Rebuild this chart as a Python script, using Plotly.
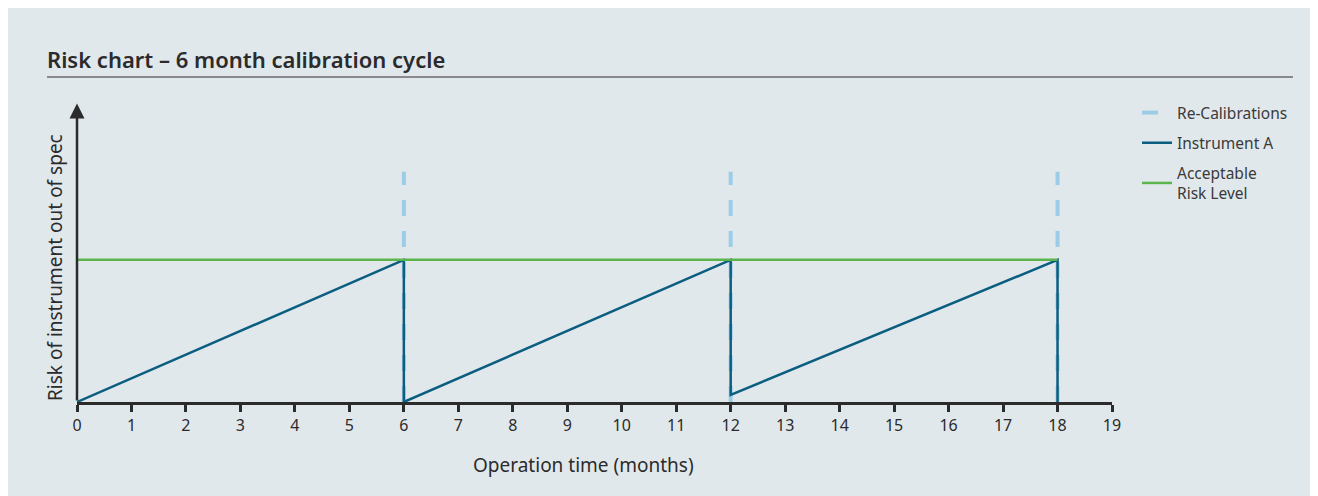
import plotly.graph_objects as go

# Data
months_ticks = list(range(0, 20))
instrument_x = [0, 6, 6, 12, 12, 18, 18]
instrument_y = [0, 1, 0, 1, 0.05, 1, 0]
accept_x = [0, 18]
accept_y = [1, 1]
recal_months = [6, 12, 18]
recal_top = 1.62
arrow_top = 2.10
y_top = 2.16

BG = "#e1e8ec"
INK = "#2b2b2b"
BLUE = "#0b5e80"
GREEN = "#5cb54c"
LIGHT = "#9dcde6"
FONT = "Noto Sans, Open Sans, sans-serif"

# page is drawn 8px in from the window edge, so pixel positions are shifted by 8
OFF = 8
L, R, T, B = 77 - OFF, 1112 - OFF, 95 - OFF, 402 - OFF
W, H = 1310, 488
PW, PH = R - L, B - T


def px(xp):
    return (xp - OFF - L) / PW


def py(yp):
    return (B - (yp - OFF)) / PH


fig = go.Figure()

# Re-calibration dashed verticals (one trace, separated by None)
rx, ry = [], []
for m in recal_months:
    rx += [m, m, None]
    ry += [0, recal_top, None]
fig.add_trace(go.Scatter(
    x=rx, y=ry, mode="lines", name="Re-Calibrations", legendgroup="a",
    line=dict(color=LIGHT, width=4, dash="16px,15px"),
    cliponaxis=False,
))

fig.add_trace(go.Scatter(
    x=instrument_x, y=instrument_y, mode="lines", name="Instrument A", legendgroup="b",
    line=dict(color=BLUE, width=2.5), cliponaxis=False,
))

fig.add_trace(go.Scatter(
    x=accept_x, y=accept_y, mode="lines", name="Acceptable<br>Risk Level", legendgroup="c",
    line=dict(color=GREEN, width=2.5), cliponaxis=False,
))

fig.update_layout(
    width=W, height=H,
    paper_bgcolor=BG, plot_bgcolor=BG,
    margin=dict(l=L, r=W - R, t=T, b=H - B),
    font=dict(family=FONT, color=INK, size=16),
    title=dict(text="Risk chart – 6 month calibration cycle",
               x=(47 - OFF) / W, xanchor="left", y=1 - (60 - OFF) / H, yanchor="middle",
               font=dict(size=22, color=INK, weight=600)),
    legend=dict(x=px(1137), xanchor="left", y=py(96), yanchor="top",
                bgcolor="rgba(0,0,0,0)", font=dict(size=15.5, color="#3a3a3a"),
                tracegroupgap=7),
    showlegend=True,
)

fig.update_xaxes(
    range=[0, 19], tickvals=months_ticks, showgrid=False, zeroline=False,
    showline=True, linecolor=INK, linewidth=3,
    ticks="outside", ticklen=7, tickwidth=2.5, tickcolor=INK,
    tickfont=dict(size=16, color=INK),
)
fig.update_yaxes(
    range=[0, y_top], showgrid=False, zeroline=False, showticklabels=False,
    showline=False,
)

# y axis with arrow
fig.add_annotation(
    x=0, y=arrow_top, ax=0, ay=0, xref="x", yref="y", axref="x", ayref="y",
    showarrow=True, arrowhead=2, arrowsize=1.2, arrowwidth=2.5, arrowcolor=INK,
    text="",
)

# axis titles
fig.add_annotation(
    x=px(583), y=py(465), xref="paper", yref="paper",
    text="Operation time (months)", showarrow=False,
    font=dict(size=19, color=INK), yanchor="middle",
)
fig.add_annotation(
    x=px(55), y=py(268), xref="paper", yref="paper",
    text="Risk of instrument out of spec", showarrow=False, textangle=-90,
    font=dict(size=19, color=INK), xanchor="center", yanchor="middle",
)

# rule under the title
fig.add_shape(
    type="line", xref="paper", yref="paper",
    x0=px(47), x1=px(1293), y0=py(77), y1=py(77),
    line=dict(color="#6a6a6a", width=1.5),
)

fig.write_html("out.html")
